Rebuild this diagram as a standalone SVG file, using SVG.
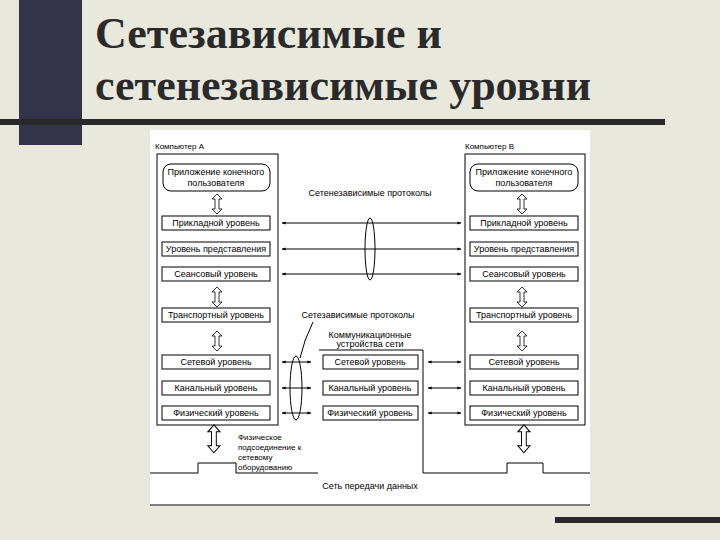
<svg xmlns="http://www.w3.org/2000/svg" width="720" height="540" viewBox="0 0 720 540">
<defs>
<style>
.t{font-family:"Liberation Sans",Arial,sans-serif;font-size:9px;fill:#000;text-anchor:middle}
.s{font-family:"Liberation Sans",Arial,sans-serif;font-size:8px;fill:#000}
.b{fill:#fff;stroke:#000;stroke-width:1}
.l{fill:none;stroke:#000;stroke-width:1}
.a{fill:none;stroke:#000;stroke-width:1;marker-start:url(#ah);marker-end:url(#ah)}
.v{fill:#fff;stroke:#000;stroke-width:0.8}
</style>
<marker id="ah" viewBox="0 0 10 10" refX="9" refY="5" markerWidth="6" markerHeight="4" orient="auto-start-reverse" markerUnits="userSpaceOnUse"><path d="M0,1 L10,5 L0,9 z" fill="#000"/></marker>
<path id="dv" d="M0,0 l-5,5 h3 v10 h-3 l5,5 l5,-5 h-3 v-10 h3 z"/>
</defs>
<rect width="720" height="540" fill="#e9e8dc"/>
<rect x="19" y="0" width="63" height="145" fill="#33344a"/>
<rect x="0" y="119" width="665" height="6" fill="#2a2a2a"/>
<rect x="555" y="517" width="165" height="6" fill="#2a2a2a"/>
<text x="95" y="48" font-family="Liberation Serif,serif" font-weight="bold" font-size="44" fill="#2a2a2a">Сетезависимые и</text>
<text x="95" y="100" font-family="Liberation Serif,serif" font-weight="bold" font-size="44" fill="#2a2a2a">сетенезависимые уровни</text>
<rect x="150" y="130" width="440" height="376" fill="#fff"/>

<g id="compA">
<text x="155" y="149" class="s" font-size="9.5">Компьютер А</text>
<rect x="157" y="154" width="121" height="271" class="b"/>
<rect x="163" y="164" width="107" height="27" rx="8" class="b"/>
<text x="216" y="175" class="t" font-size="8">Приложение конечного</text>
<text x="216" y="186" class="t" font-size="7">пользователя</text>
<rect x="162" y="216" width="108" height="14" class="b"/><text x="216" y="226" class="t" font-size="8">Прикладной уровень</text>
<rect x="162" y="242" width="108" height="14" class="b"/><text x="216" y="252" class="t" font-size="8">Уровень представления</text>
<rect x="162" y="267" width="108" height="14" class="b"/><text x="216" y="277" class="t" font-size="8">Сеансовый уровень</text>
<rect x="162" y="308" width="108" height="14" class="b"/><text x="216" y="318" class="t" font-size="8">Транспортный уровень</text>
<rect x="162" y="355" width="108" height="14" class="b"/><text x="216" y="365" class="t" font-size="8">Сетевой уровень</text>
<rect x="162" y="381" width="108" height="14" class="b"/><text x="216" y="391" class="t" font-size="8">Канальный уровень</text>
<rect x="162" y="406" width="108" height="14" class="b"/><text x="216" y="416" class="t" font-size="8">Физический уровень</text>
<use href="#dv" x="217" y="194" class="v"/>
<use href="#dv" x="217" y="287" class="v"/>
<use href="#dv" x="217" y="331" class="v"/>
</g>

<g id="compB">
<text x="465" y="149" class="s" font-size="9.5">Компьютер В</text>
<rect x="465" y="154" width="120" height="271" class="b"/>
<rect x="470" y="164" width="108" height="27" rx="8" class="b"/>
<text x="524" y="175" class="t" font-size="8">Приложение конечного</text>
<text x="524" y="186" class="t" font-size="7">пользователя</text>
<rect x="470" y="216" width="108" height="14" class="b"/><text x="524" y="226" class="t" font-size="8">Прикладной уровень</text>
<rect x="470" y="242" width="108" height="14" class="b"/><text x="524" y="252" class="t" font-size="8">Уровень представления</text>
<rect x="470" y="267" width="108" height="14" class="b"/><text x="524" y="277" class="t" font-size="8">Сеансовый уровень</text>
<rect x="470" y="308" width="108" height="14" class="b"/><text x="524" y="318" class="t" font-size="8">Транспортный уровень</text>
<rect x="470" y="355" width="108" height="14" class="b"/><text x="524" y="365" class="t" font-size="8">Сетевой уровень</text>
<rect x="470" y="381" width="108" height="14" class="b"/><text x="524" y="391" class="t" font-size="8">Канальный уровень</text>
<rect x="470" y="406" width="108" height="14" class="b"/><text x="524" y="416" class="t" font-size="8">Физический уровень</text>
<use href="#dv" x="522" y="194" class="v"/>
<use href="#dv" x="522" y="287" class="v"/>
<use href="#dv" x="522" y="331" class="v"/>
</g>

<g id="device">
<text x="370" y="338" class="t" font-size="7">Коммуникационные</text>
<text x="370" y="347" class="t" font-size="7">устройства сети</text>
<path d="M319,350 H423 V473" class="l"/>
<rect x="323" y="355" width="95" height="14" class="b"/><text x="370" y="365" class="t" font-size="8">Сетевой уровень</text>
<rect x="323" y="381" width="95" height="14" class="b"/><text x="370" y="391" class="t" font-size="8">Канальный уровень</text>
<rect x="323" y="406" width="95" height="14" class="b"/><text x="370" y="416" class="t" font-size="8">Физический уровень</text>
</g>

<g id="network">
<path d="M150,473 H198 V463 H236 V473 H318" class="l"/>
<path d="M423,473 H507 V463 H543 V473 H590" class="l"/>
<path d="M150,505 H590" class="l"/>
<text x="370" y="489" class="t" font-size="9">Сеть передачи данных</text>
<use href="#dv" x="217" y="432" class="v" transform="translate(-46.5,-180) scale(1.2,1.4)"/>
<use href="#dv" x="527" y="432" class="v" transform="translate(-108.5,-180) scale(1.2,1.4)"/>
<text x="238" y="440" class="s" font-size="7">Физическое</text>
<text x="238" y="450" class="s" font-size="8">подсоединение к</text>
<text x="238" y="460" class="s" font-size="8">сетевому</text>
<text x="238" y="470" class="s" font-size="8">оборудованию</text>
</g>

<g id="connectors">
<text x="370" y="196" class="t" font-size="8">Сетенезависимые протоколы</text>
<line x1="282" y1="223" x2="461" y2="223" class="a"/>
<line x1="282" y1="249" x2="461" y2="249" class="a"/>
<line x1="282" y1="274" x2="461" y2="274" class="a"/>
<ellipse cx="370" cy="249" rx="5" ry="31" class="l"/>
<text x="358" y="318" class="t" font-size="8">Сетезависимые протоколы</text>
<path d="M313,322 Q304,340 300,358" class="l"/>
<line x1="282" y1="362" x2="311" y2="362" class="a"/>
<line x1="282" y1="388" x2="311" y2="388" class="a"/>
<line x1="282" y1="413" x2="311" y2="413" class="a"/>
<ellipse cx="296" cy="388" rx="6" ry="32" class="l"/>
<line x1="428" y1="362" x2="461" y2="362" class="a"/>
<line x1="428" y1="388" x2="461" y2="388" class="a"/>
<line x1="428" y1="413" x2="461" y2="413" class="a"/>
</g>
</svg>
